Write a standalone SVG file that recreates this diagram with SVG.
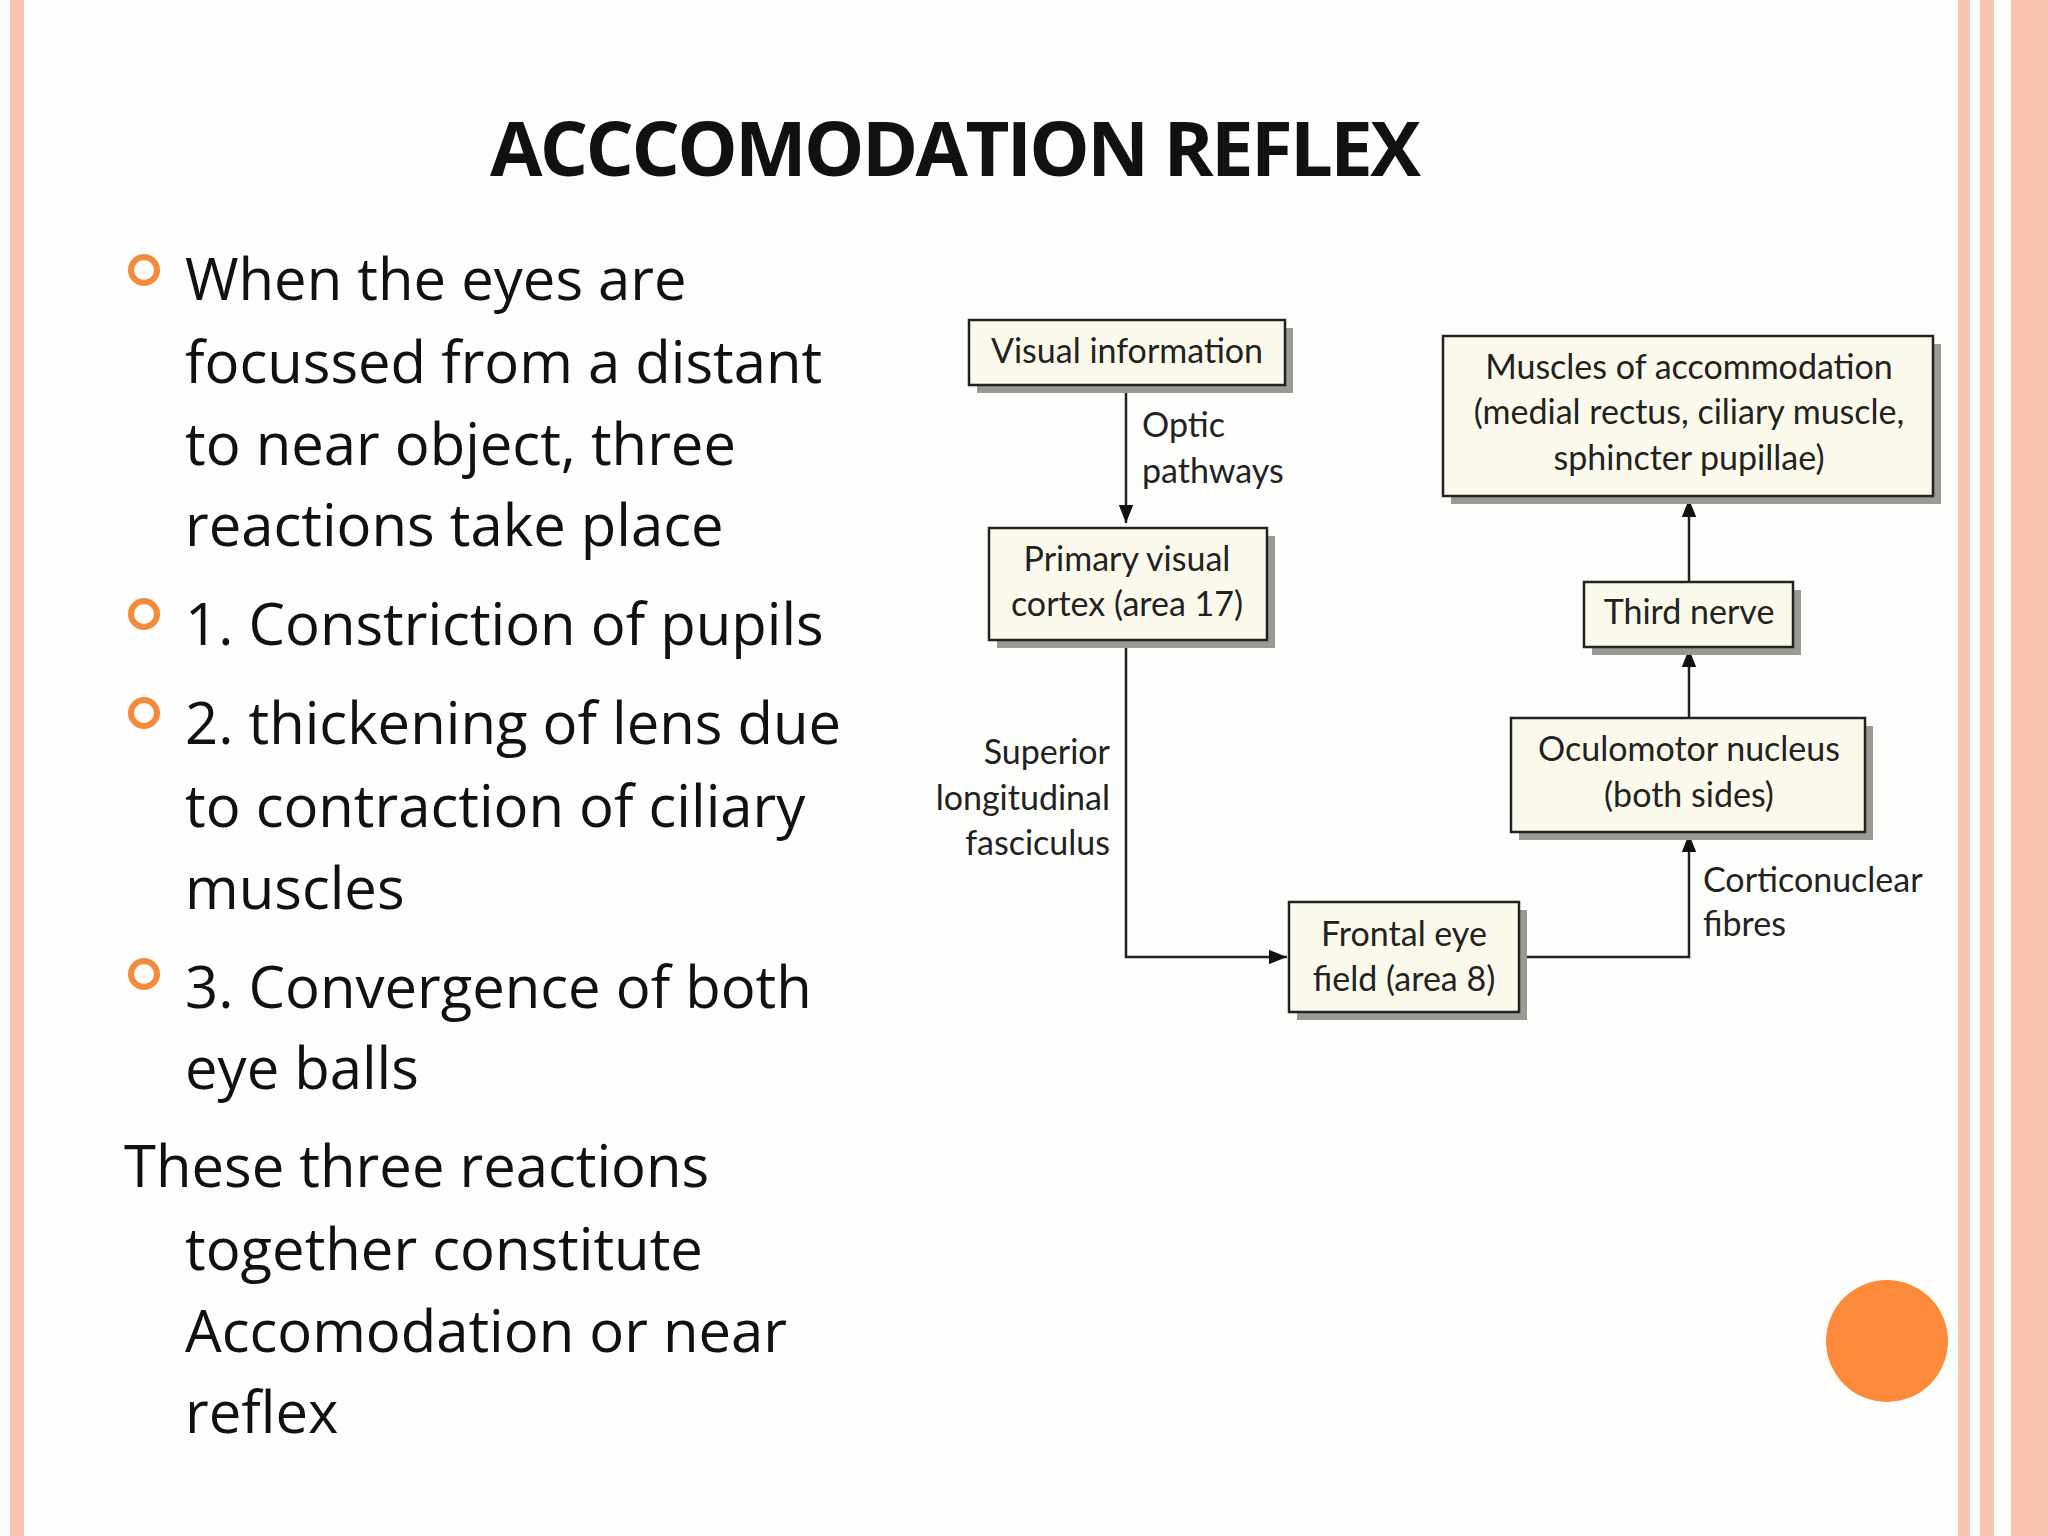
<svg xmlns="http://www.w3.org/2000/svg" width="2048" height="1536" viewBox="0 0 2048 1536">
<defs>
<style>
.t{font-family:"Open Sans","Liberation Sans",sans-serif;fill:#111}
.b{font-size:58px}
.d{font-family:Lato,"Liberation Sans",sans-serif;font-size:34px;fill:#222}
.box{fill:#fbf9ec;stroke:#222;stroke-width:2.5}
.sh{fill:#9a9a92}
.c{fill:none;stroke:#222;stroke-width:2.5}
.ring{fill:none;stroke:#f68a3c;stroke-width:6}
</style>
<marker id="a" viewBox="0 0 10 10" refX="10" refY="5" markerWidth="7" markerHeight="7" orient="auto" markerUnits="userSpaceOnUse"><path d="M0,0L10,5L0,10z" fill="#111"/></marker>
<marker id="ah" viewBox="0 0 10 10" refX="10" refY="5" markerWidth="18" markerHeight="18" orient="auto" markerUnits="userSpaceOnUse"><path d="M0,1L10,5L0,9z" fill="#111"/></marker>
</defs>
<rect width="2048" height="1536" fill="#fdfdfb"/>
<rect x="10" y="0" width="14" height="1536" fill="#f8c4ae"/>
<rect x="1958" y="0" width="12" height="1536" fill="#f8c4ae"/>
<rect x="1980" y="0" width="14" height="1536" fill="#f8c4ae"/>
<rect x="2011" y="0" width="37" height="1536" fill="#f8c4ae"/>
<text class="t" x="490" y="176" font-size="76" font-weight="bold" textLength="931">ACCCOMODATION REFLEX</text>
<g id="bullets">
<circle class="ring" cx="144" cy="270" r="13"/><circle class="ring" cx="144" cy="614" r="13"/><circle class="ring" cx="144" cy="713" r="13"/><circle class="ring" cx="144" cy="974" r="13"/>
<text class="t b" x="185" y="300">When the eyes are</text>
<text class="t b" x="185" y="383">focussed from a distant</text>
<text class="t b" x="185" y="465">to near object, three</text>
<text class="t b" x="185" y="546">reactions take place</text>
<text class="t b" x="185" y="645">1. Constriction of pupils</text>
<text class="t b" x="185" y="744">2. thickening of lens due</text>
<text class="t b" x="185" y="827">to contraction of ciliary</text>
<text class="t b" x="185" y="909">muscles</text>
<text class="t b" x="185" y="1008">3. Convergence of both</text>
<text class="t b" x="185" y="1089">eye balls</text>
<text class="t b" x="124" y="1187">These three reactions</text>
<text class="t b" x="185" y="1270">together constitute</text>
<text class="t b" x="185" y="1352">Accomodation or near</text>
<text class="t b" x="185" y="1433">reflex</text>
</g>
<g id="connectors">
<path class="c" d="M1126,385V523" marker-end="url(#ah)"/>
<path class="c" d="M1126,640V957H1287" marker-end="url(#ah)"/>
<path class="c" d="M1519,957H1689V834" marker-end="url(#ah)"/>
<path class="c" d="M1689,718V649" marker-end="url(#ah)"/>
<path class="c" d="M1689,582V499" marker-end="url(#ah)"/>
<text class="d" x="1142" y="437">Optic</text>
<text class="d" x="1142" y="483">pathways</text>
<text class="d" x="1110" y="764" text-anchor="end">Superior</text>
<text class="d" x="1110" y="810" text-anchor="end">longitudinal</text>
<text class="d" x="1110" y="855" text-anchor="end">fasciculus</text>
<text class="d" x="1703" y="892">Corticonuclear</text>
<text class="d" x="1703" y="936">fibres</text>
</g>
<g id="n1"><rect class="sh" x="977" y="328" width="316" height="65"/><rect class="box" x="969" y="320" width="316" height="65"/><text class="d" x="1127" y="363" text-anchor="middle">Visual information</text></g>
<g id="n2"><rect class="sh" x="997" y="536" width="278" height="112"/><rect class="box" x="989" y="528" width="278" height="112"/><text class="d" x="1127" y="571" text-anchor="middle">Primary visual</text><text class="d" x="1127" y="616" text-anchor="middle">cortex (area 17)</text></g>
<g id="n3"><rect class="sh" x="1297" y="910" width="230" height="110"/><rect class="box" x="1289" y="902" width="230" height="110"/><text class="d" x="1404" y="946" text-anchor="middle">Frontal eye</text><text class="d" x="1404" y="991" text-anchor="middle">field (area 8)</text></g>
<g id="n4"><rect class="sh" x="1519" y="726" width="354" height="114"/><rect class="box" x="1511" y="718" width="354" height="114"/><text class="d" x="1689" y="761" text-anchor="middle">Oculomotor nucleus</text><text class="d" x="1689" y="807" text-anchor="middle">(both sides)</text></g>
<g id="n5"><rect class="sh" x="1592" y="590" width="209" height="65"/><rect class="box" x="1584" y="582" width="209" height="65"/><text class="d" x="1689" y="624" text-anchor="middle">Third nerve</text></g>
<g id="n6"><rect class="sh" x="1451" y="344" width="490" height="160"/><rect class="box" x="1443" y="336" width="490" height="160"/><text class="d" x="1689" y="379" text-anchor="middle">Muscles of accommodation</text><text class="d" x="1689" y="424" text-anchor="middle">(medial rectus, ciliary muscle,</text><text class="d" x="1689" y="470" text-anchor="middle">sphincter pupillae)</text></g>
<circle cx="1887" cy="1341" r="61" fill="#fd8a3a"/>
</svg>
